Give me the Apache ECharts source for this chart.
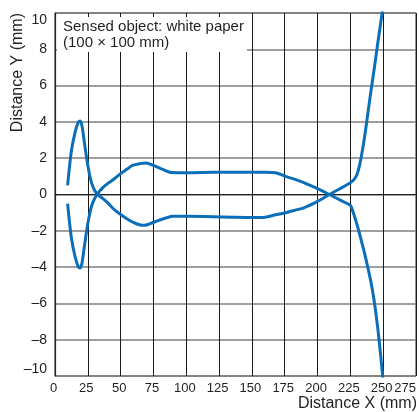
<!DOCTYPE html>
<html>
<head>
<meta charset="utf-8">
<script src="https://cdn.jsdelivr.net/npm/echarts@6/dist/echarts.min.js"></script>
<style>
html,body{margin:0;padding:0;background:#fff;}
#c{width:419px;height:412px;}
</style>
</head>
<body>
<div id="c"></div>
<script>
// Curve A: peak +4 at left, lower flat, rises to +10 at right
var xA = [9.6, 11, 12.6, 15.2, 17.5, 19, 20.5, 22.5, 25, 27.8, 30, 32.3, 36, 40, 45, 50, 55, 60, 65, 68, 72, 78, 85, 90, 100, 120, 135, 150, 160, 168, 175, 182, 190, 200, 209, 217, 225, 228, 230, 232, 234, 236, 238, 240, 242, 244, 246, 248, 250];
var yA = [0.5, 1.5, 2.45, 3.4, 3.95, 4.05, 3.8, 2.8, 1.6, 0.65, 0.25, 0.02, -0.2, -0.45, -0.82, -1.1, -1.35, -1.55, -1.68, -1.7, -1.62, -1.45, -1.28, -1.2, -1.2, -1.22, -1.25, -1.27, -1.25, -1.12, -1.02, -0.88, -0.72, -0.38, 0.0, 0.32, 0.65, 0.85, 1.1, 1.6, 2.35, 3.25, 4.3, 5.35, 6.35, 7.35, 8.4, 9.4, 10.4];
// Curve B: trough -4 at left, upper flat, falls to -10 at right
var xB = [9.6, 11, 12.6, 15.2, 17.5, 19, 20.5, 22.5, 25, 27.8, 30, 32.3, 36, 40, 44, 50, 55, 59, 65, 69.5, 75, 82, 89, 100, 120, 140, 160, 168, 175.6, 185, 193, 200, 209, 217, 225, 227, 229, 231, 233, 235, 237, 239, 241, 243, 245, 247, 249, 250];
var yB = [-0.5, -1.5, -2.45, -3.4, -3.95, -4.05, -3.8, -2.8, -1.6, -0.65, -0.25, 0.02, 0.35, 0.6, 0.8, 1.15, 1.4, 1.6, 1.7, 1.73, 1.6, 1.38, 1.21, 1.2, 1.22, 1.23, 1.23, 1.2, 1.0, 0.78, 0.55, 0.32, 0.0, -0.3, -0.6, -0.95, -1.4, -1.9, -2.45, -3.0, -3.6, -4.25, -4.95, -5.8, -6.85, -8.1, -9.55, -10.3];

var xTicks = [0, 25, 50, 75, 100, 125, 150, 175, 200, 225, 250, 275];
var yTicks = [-10, -8, -6, -4, -2, 0, 2, 4, 6, 8, 10];
var noteLines = ['Sensed object: white paper', '(100 \u00d7 100 mm)'];
var xName = 'Distance X (mm)';
var yName = 'Distance Y (mm)';

function pairs(xs, ys) {
  var out = [];
  for (var i = 0; i < xs.length; i++) out.push([xs[i], ys[i]]);
  return out;
}

var FONT = '"Liberation Sans", Arial, sans-serif';
var TXT = '#231f20';
var BLUE = '#0a6fb8';
var xMax = xTicks[xTicks.length - 1];

var chart = echarts.init(document.getElementById('c'), null, {renderer: 'canvas'});
chart.setOption({
  animation: false,
  backgroundColor: '#fff',
  grid: {left: 55, right: 1, top: 13, bottom: 36, show: true, borderColor: '#222', borderWidth: 1, backgroundColor: 'transparent'},
  xAxis: {
    type: 'value',
    min: xTicks[0], max: xMax, interval: 25,
    axisLine: {show: true, lineStyle: {color: '#222', width: 1.2}},
    axisTick: {show: false},
    splitLine: {show: true, lineStyle: {color: '#1a1a1a', width: 1}},
    axisLabel: {
      color: TXT, fontSize: 13, fontFamily: FONT, margin: 6,
      alignMaxLabel: 'right', showMaxLabel: true, showMinLabel: true,
      formatter: function (v) { return v === xMax ? '{m|' + v + '}' : '{n|' + v + '}'; },
      rich: {
        n: {color: TXT, fontSize: 13, fontFamily: FONT, padding: [0, 3, 0, 0]},
        m: {color: TXT, fontSize: 13, fontFamily: FONT}
      }
    }
  },
  yAxis: {
    type: 'value',
    min: yTicks[0], max: yTicks[yTicks.length - 1], interval: 2,
    axisLine: {show: true, lineStyle: {color: '#222', width: 1.2}},
    axisTick: {show: false},
    splitLine: {show: true, lineStyle: {color: '#7f7f7f', width: 1.5}},
    axisLabel: {
      color: TXT, fontSize: 14, fontFamily: FONT, margin: 8,
      verticalAlignMaxLabel: 'top', verticalAlignMinLabel: 'bottom',
      formatter: function (v) { return v < 0 ? '\u2013' + (-v) : String(v); }
    }
  },
  graphic: [
    {type: 'rect', left: 57, top: 17, shape: {width: 190, height: 35}, style: {fill: '#fff'}, z: 10},
    {type: 'text', left: 63, top: 19, z: 11, style: {text: noteLines.join('\n'), font: '15px ' + FONT, fill: TXT, lineHeight: 16}},
    {type: 'text', right: 2, top: 396, z: 11, style: {text: xName, font: '16px ' + FONT, fill: TXT}},
    {type: 'text', x: 10, y: 13, rotation: Math.PI / 2, z: 11, style: {text: yName, font: '16px ' + FONT, fill: TXT, align: 'right', verticalAlign: 'top'}}
  ],
  series: [
    {type: 'line', data: pairs(xA, yA), showSymbol: false, smooth: 0.3, clip: true, lineStyle: {color: BLUE, width: 3}},
    {type: 'line', data: pairs(xB, yB), showSymbol: false, smooth: 0.3, clip: true, lineStyle: {color: BLUE, width: 3}}
  ]
});
</script>
</body>
</html>
